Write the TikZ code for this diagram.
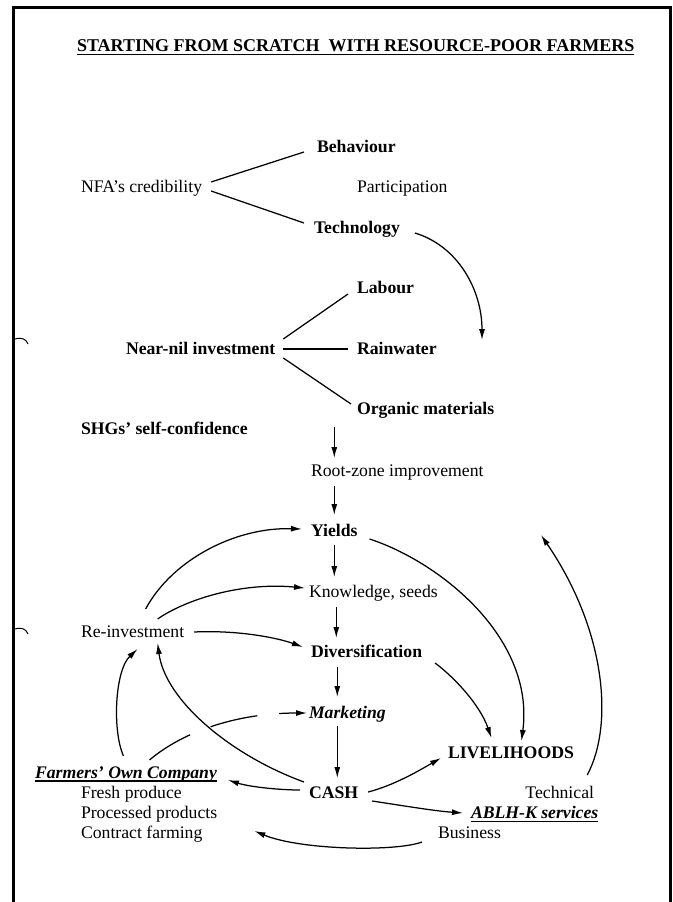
\documentclass[tikz,border=0pt]{standalone}
\usepackage{fontspec}
\setmainfont{Liberation Serif}
\usetikzlibrary{arrows.meta,calc}
\begin{document}
\begin{tikzpicture}[x=1pt,y=-1pt,
  lbl/.style={anchor=base west,inner sep=0pt,outer sep=0pt,text height=12pt,text depth=4pt,font=\fontsize{17.7}{20}\selectfont},
  bld/.style={lbl,font=\fontsize{17.7}{20}\selectfont\bfseries},
  bit/.style={lbl,font=\fontsize{17.7}{20}\selectfont\bfseries\itshape},
  con/.style={line width=1.25pt},
  arr/.style={con,-{Latex[length=11pt,width=6pt]}},
  dsh/.style={dash pattern=on 48pt off 22pt},
  uline/.style={line width=1.3pt},
]
\useasboundingbox (0,0) rectangle (672,902);
% frame
\draw[line width=3pt] (13.5,902) -- (13.5,7.5) -- (670.5,7.5) -- (670.5,902);
% scan marks
\draw[line width=1pt] (15,339) .. controls (22,337) and (26,339) .. (28,344);
\draw[line width=1pt] (15,629) .. controls (22,627) and (26,629) .. (28,634);

% nodes
\node[bld,font=\fontsize{18}{20}\selectfont\bfseries] (title) at (77,51.5) {STARTING FROM SCRATCH\ \ WITH RESOURCE-POOR FARMERS};
\node[bld] (beh) at (317,152) {Behaviour};
\node[lbl] (nfa) at (81,192) {NFA’s credibility};
\node[lbl] (part) at (357,192) {Participation};
\node[bld] (tech) at (314,233) {Technology};
\node[bld] (lab) at (357,293) {Labour};
\node[bld] (nn) at (126,354) {Near-nil investment};
\node[bld] (rain) at (357,354) {Rainwater};
\node[bld] (org) at (357,414) {Organic materials};
\node[bld] (shg) at (81,434) {SHGs’ self-confidence};
\node[lbl] (rz) at (311,476) {Root-zone improvement};
\node[bld] (yld) at (311,536) {Yields};
\node[lbl] (know) at (309,597) {Knowledge, seeds};
\node[lbl] (reinv) at (81,637) {Re-investment};
\node[bld] (div) at (311,657) {Diversification};
\node[bit] (mkt) at (309,718) {Marketing};
\node[bld] (liv) at (448,758) {LIVELIHOODS};
\node[bit] (fc) at (35,778) {Farmers’ Own Company};
\node[bld] (cash) at (309,798) {CASH};
\node[lbl] (fresh) at (81,798) {Fresh produce};
\node[lbl] (proc) at (81,818) {Processed products};
\node[lbl] (cf) at (81,838) {Contract farming};
\node[lbl,anchor=base east] (techn) at (594,798) {Technical};
\node[bit] (ablh) at (471,818) {ABLH-K services};
\node[lbl] (bus) at (438,838) {Business};

% underlines
\draw[line width=1.5pt] ([shift={(0,3)}]title.base west) -- ([shift={(0,3)}]title.base east);
\draw[uline] ([shift={(0,3)}]fc.base west) -- ([shift={(0,3)}]fc.base east);
\draw[uline] ([shift={(0,3.5)}]ablh.base west) -- ([shift={(0,3.5)}]ablh.base east);

% top part
\draw[con] ([shift={(9,-6)}]nfa.east) -- ([shift={(-13,4)}]beh.west);
\draw[con] ([shift={(9,3)}]nfa.east) -- ([shift={(-10,-6)}]tech.west);
\coordinate (techend) at (482,340);
\draw[arr] ([shift={(15,4)}]tech.east) .. controls (458,246) and (482,290) .. (techend);
\draw[con] ([shift={(8,-11)}]nn.east) -- ([shift={(-9,5)}]lab.west);
\draw[con] ([shift={(8,-1)}]nn.east) -- ([shift={(-9,-1)}]rain.west);
\draw[con] ([shift={(8,8)}]nn.east) -- ([shift={(-6,-6)}]org.west);

% spine
\draw[arr] ($(yld.north |- org.south)+(0,9)$) -- ($(yld.north |- rz.north)+(0,-6)$);
\draw[arr] ($(yld.north |- rz.south)+(0,6)$) -- ([shift={(0,-9)}]yld.north);
\draw[arr] ([shift={(0,5)}]yld.south) -- ($(yld.south |- know.north)+(0,-8)$);
\draw[arr] ($(yld.south |- know.south)+(2,6)$) -- ($(yld.south |- div.north)+(2,-7)$);
\draw[arr] ($(yld.south |- div.south)+(3,6)$) -- ($(yld.south |- mkt.north)+(3,-9)$);
\draw[arr] ($(yld.south |- mkt.south)+(3,4)$) -- ($(yld.south |- cash.north)+(3,-8)$);

% re-investment loops
\draw[arr] ([shift={(13,-16)}]reinv.north) .. controls (172,560) and (235,527) .. ([shift={(-9,-3)}]yld.west);
\draw[arr] ([shift={(25,-6)}]reinv.north) .. controls (185,600) and (240,582) .. ([shift={(-4,-5)}]know.west);
\draw[arr] ([shift={(10,-1)}]reinv.east) .. controls (235,630) and (275,637) .. ([shift={(-8,-6)}]div.west);
\draw[arr] ([shift={(-5,-12)}]cash.west) .. controls (230,755) and (165,700) .. ([shift={(25,2)}]reinv.south);
\draw[arr] ([shift={(-2.5,-10)}]fc.north) .. controls (112,730) and (115,670) .. ([shift={(5,8)}]reinv.south);
\draw[arr,dsh] ([shift={(23.5,-6)}]fc.north) .. controls (185,730) and (240,713) .. ([shift={(-2,-1)}]mkt.west);

% cash outflows
\draw[arr] ([shift={(-9,-4)}]cash.west) .. controls (280,790) and (250,787) .. ([shift={(11,6)}]fc.east);
\draw[arr] ([shift={(10,-2)}]cash.east) .. controls (395,785) and (420,770) .. ([shift={(-7,4)}]liv.west);
\draw[arr] ([shift={(14,7)}]cash.east) .. controls (405,806) and (435,811) .. ([shift={(-8,-1)}]ablh.west);
\draw[arr] ([shift={(-16,8)}]bus.west) .. controls (395,852) and (300,850) .. ([shift={(52,-3)}]cf.east);

% livelihoods
\draw[arr] ([shift={(13,10)}]div.east) .. controls (455,678) and (480,705) .. ([shift={(-19.5,-8)}]liv.north);
\draw[arr] ([shift={(12,7)}]yld.east) .. controls (440,562) and (535,638) .. ([shift={(10.5,-5)}]liv.north);
\coordinate (upend) at (541,535);
\draw[arr] ([shift={(27.5,-11)}]techn.north) .. controls (614,725) and (606,630) .. (upend);
\end{tikzpicture}
\end{document}
